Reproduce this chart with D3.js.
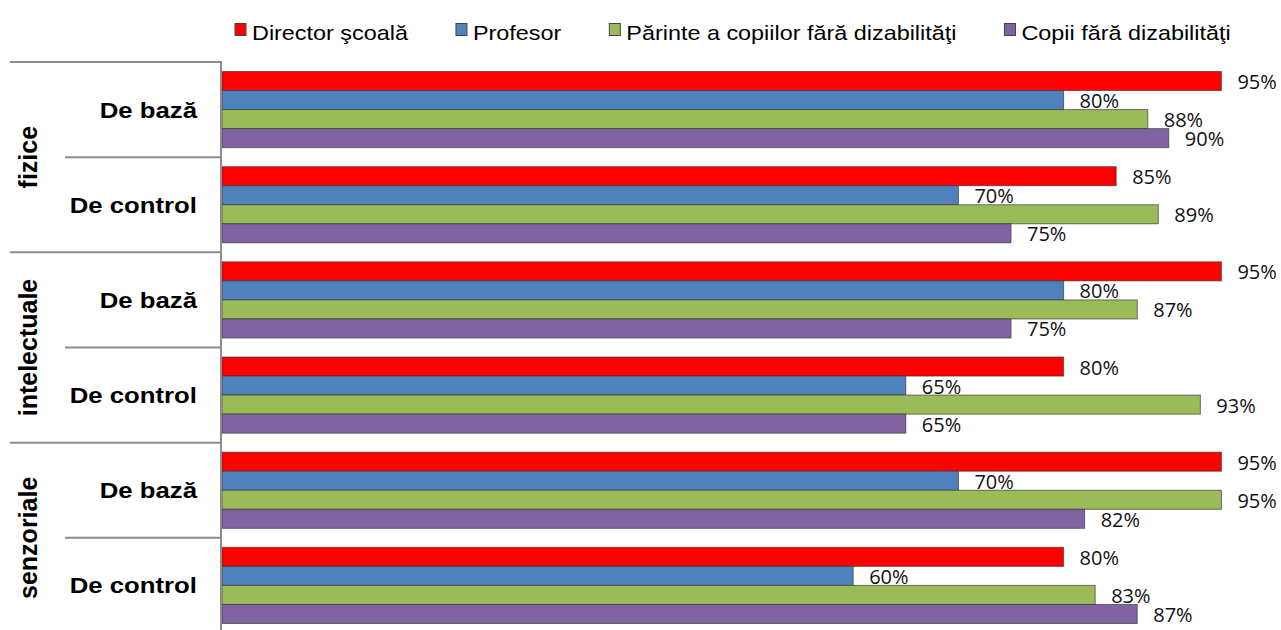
<!DOCTYPE html>
<html>
<head>
<meta charset="utf-8">
<script src="https://cdn.jsdelivr.net/npm/d3@7"></script>
<style>
  body { margin: 0; background: #fff; }
  svg { display: block; }
</style>
</head>
<body>
<svg id="chart" width="1281" height="630"></svg>
<script>
// data
const groups = ['fizice', 'intelectuale', 'senzoriale']
const subcats = ['De bază', 'De control']
const seriesNames = ['Director şcoală', 'Profesor', 'Părinte a copiilor fără dizabilităţi', 'Copii fără dizabilităţi']
const seriesColors = ['#ff0000', '#4f81bd', '#9bbb59', '#8064a2']
const director = [95, 85, 95, 80, 95, 80]
const profesor = [80, 70, 80, 65, 70, 60]
const parinte = [88, 89, 87, 93, 95, 83]
const copii = [90, 75, 75, 65, 82, 87]

const allValues = [director, profesor, parinte, copii]
const rows = []
groups.forEach(g => subcats.forEach(s => rows.push(g + '|' + s)))

const svg = d3.select('#chart')
const stretch = 1.17 // the reference text looks horizontally widened

const x = d3.scaleLinear().domain([0, 100]).range([222, 1274])
const y = d3.scaleBand().domain(rows).range([62, 633]).padding(0)
const yInner = d3.scaleBand().domain(seriesNames).range([0, y.bandwidth()]).paddingInner(0).paddingOuter(0.5)

// stretched text helper
function stext(sel, tx, ty) {
  return sel.attr('transform', `translate(${tx},${ty}) scale(${stretch},1)`)
}

// bars
seriesNames.forEach((name, si) => {
  const vals = allValues[si]
  const g = svg.append('g')
  g.selectAll('rect')
    .data(rows)
    .join('rect')
      .attr('x', x(0))
      .attr('y', (d) => y(d) + yInner(name))
      .attr('width', (d, i) => x(vals[i]) - x(0))
      .attr('height', yInner.bandwidth())
      .attr('fill', seriesColors[si])
      .attr('stroke', '#333')
      .attr('stroke-opacity', 0.65)
      .attr('stroke-width', 1)

  g.selectAll('text')
    .data(rows)
    .join('text')
      .attr('x', (d, i) => x(vals[i]) + 16)
      .attr('y', (d) => y(d) + yInner(name) + yInner.bandwidth() / 2 + 8)
      .attr('font-family', '"Open Sans", "Noto Sans", sans-serif')
      .attr('font-size', 20)
      .attr('fill', '#111')
      .text((d, i) => vals[i] + '%')
})

// left axis and separators
const lineColor = '#8c8c8c'
svg.append('line')
  .attr('x1', x(0) - 1).attr('x2', x(0) - 1)
  .attr('y1', y.range()[0]).attr('y2', y.range()[1])
  .attr('stroke', lineColor).attr('stroke-width', 2)

rows.forEach((r, i) => {
  const isGroupStart = i % subcats.length === 0
  svg.append('line')
    .attr('x1', isGroupStart ? 10 : 65)
    .attr('x2', x(0))
    .attr('y1', y(r)).attr('y2', y(r))
    .attr('stroke', lineColor).attr('stroke-width', 2)
})
svg.append('line')
  .attr('x1', 10).attr('x2', x(0))
  .attr('y1', y.range()[1]).attr('y2', y.range()[1])
  .attr('stroke', lineColor).attr('stroke-width', 2)

// subcategory labels
rows.forEach(r => {
  const sub = r.split('|')[1]
  svg.append('text')
    .call(stext, 197, y(r) + y.bandwidth() / 2 + 8)
    .attr('text-anchor', 'end')
    .attr('font-family', '"Liberation Sans", Arial, sans-serif')
    .attr('font-weight', 'bold')
    .attr('font-size', 22)
    .attr('fill', '#000')
    .text(sub)
})

// group labels (rotated)
groups.forEach((g, gi) => {
  const yc = y(g + '|' + subcats[0]) + y.bandwidth() * subcats.length / 2
  svg.append('text')
    .attr('transform', `translate(37,${yc}) rotate(-90)`)
    .attr('text-anchor', 'middle')
    .attr('font-family', '"Liberation Sans", Arial, sans-serif')
    .attr('font-weight', 'bold')
    .attr('font-size', 25)
    .attr('fill', '#000')
    .text(g)
})

// legend
const legend = svg.append('g')
let lx = 235
seriesNames.forEach((name, si) => {
  legend.append('rect')
    .attr('x', lx).attr('y', 23.5)
    .attr('width', 11).attr('height', 12)
    .attr('fill', seriesColors[si])
    .attr('stroke', '#444').attr('stroke-width', 1)
  const t = legend.append('text')
    .call(stext, lx + 17, 40)
    .attr('font-family', '"Liberation Sans", Arial, sans-serif')
    .attr('font-size', 20)
    .attr('fill', '#000')
    .text(name)
  lx = lx + 17 + t.node().getComputedTextLength() * stretch + 48
})
</script>
</body>
</html>
